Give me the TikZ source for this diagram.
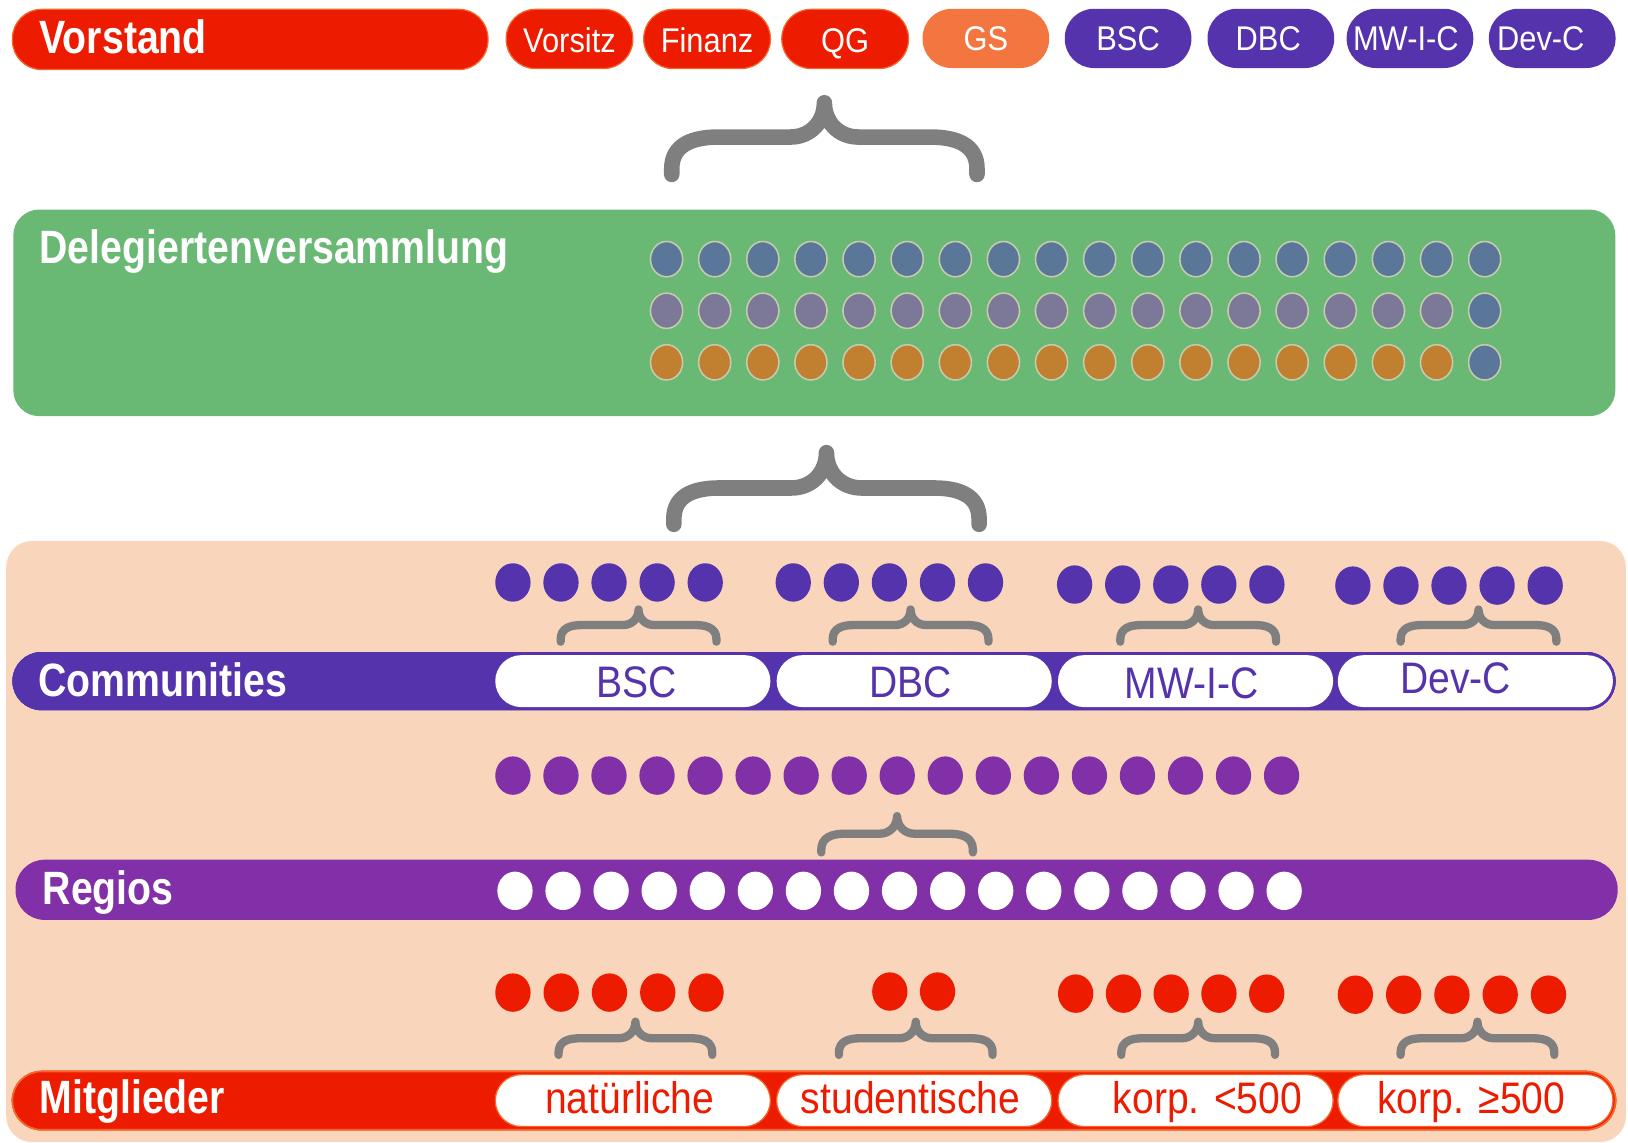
\documentclass[tikz,border=0pt]{standalone}
\usepackage{fontspec}
\setmainfont{Liberation Sans}
\newfontfamily\lblfont{Liberation Sans}[FakeStretch=0.84]
\newfontfamily\pillfont{Liberation Sans}[FakeStretch=0.9]
\newfontfamily\boxfont{Liberation Sans}[FakeStretch=0.885]
\definecolor{vred}{HTML}{ED1B00}
\definecolor{vredline}{HTML}{F4662C}
\definecolor{vorange}{HTML}{F37540}
\definecolor{vpurple}{HTML}{5433AD}
\definecolor{rpurple}{HTML}{8230A8}
\definecolor{dgreen}{HTML}{69B874}
\definecolor{peach}{HTML}{F8D5BB}
\definecolor{dblue}{HTML}{5A7799}
\definecolor{dgray}{HTML}{7C7897}
\definecolor{dorange}{HTML}{C08030}
\definecolor{bgray}{HTML}{7F7F7F}
\definecolor{dline}{HTML}{C6CBB0}
\tikzset{
  bracestyle/.style={draw=bgray, line cap=round, line join=round},
  lbl/.style={anchor=base west, inner sep=0pt, text=white, font=\lblfont\bfseries\fontsize{45}{54}\selectfont},
  tpill/.style={rounded corners=28pt, minimum width=122pt, minimum height=57pt, inner sep=0pt, text=white, text depth=0pt, font=\pillfont\fontsize{33}{40}\selectfont},
  band/.style={inner sep=0pt, rounded corners=28pt},
  cpill/.style={fill=white, minimum width=265pt, minimum height=50pt, rounded corners=25pt, inner sep=0pt},
  ctext/.style={anchor=base, inner sep=0pt, font=\boxfont\fontsize{42.5}{50}\selectfont},
  gdot/.style={draw=dline, line width=1.5pt},
}
\newcommand\gbrace[6]{%
  \pgfmathsetmacro\brL{#1-#5}\pgfmathsetmacro\brR{#1+#5}%
  \pgfmathsetmacro\brDv{#4-#3}\pgfmathsetmacro\brDt{#3-#2}%
  \pgfmathsetmacro\brAx{1.25*\brDv}\pgfmathsetmacro\brTx{1.0*\brDt}%
  \draw[bracestyle,line width=#6]
    (\brL,#4) -- (\brL,{#4-0.15*\brDv})
    .. controls (\brL,{#3+0.2*\brDv}) and ({\brL+0.45*\brAx},#3) .. ({\brL+\brAx},#3)
    -- ({#1-\brTx},#3)
    .. controls ({#1-0.4*\brTx},#3) and (#1,{#3-0.45*\brDt}) .. (#1,#2)
    .. controls (#1,{#3-0.45*\brDt}) and ({#1+0.4*\brTx},#3) .. ({#1+\brTx},#3)
    -- ({\brR-\brAx},#3)
    .. controls ({\brR-0.45*\brAx},#3) and (\brR,{#3+0.2*\brDv}) .. (\brR,{#4-0.15*\brDv})
    -- (\brR,#4);%
}
\begin{document}
\begin{tikzpicture}[x=1pt,y=-1pt]
\useasboundingbox (0,0) rectangle (1568,1100);

% ---------- Vorstand row ----------
\node[band, fill=vred, draw=vredline, line width=1.2pt, minimum width=458pt, minimum height=58pt] (vorstand) at (241,38) {};
\node[lbl] (tVor) at (38,51.4) {Vorstand};
\node[tpill, fill=vred, draw=vredline, line width=1.2pt, text height=26.4pt] (pVorsitz) at (548.5,37.5) {Vorsitz};
\node[tpill, fill=vred, draw=vredline, line width=1.2pt, text height=26.4pt] (pFinanz) at (681,37.5) {Finanz};
\node[tpill, fill=vred, draw=vredline, line width=1.2pt, text height=26.4pt] (pQG) at (814,37.5) {QG};
\node[tpill, fill=vorange, text height=22.4pt] (pGS) at (949.5,37) {GS};
\node[tpill, fill=vpurple, text height=22.4pt] (pBSC) at (1086.5,37) {BSC};
\node[tpill, fill=vpurple, text height=22.4pt] (pDBC) at (1224,37) {DBC\hspace*{5pt}};
\node[tpill, fill=vpurple, text height=22.4pt] (pMW) at (1358,37) {MW-I-C\hspace*{8pt}};
\node[tpill, fill=vpurple, text height=22.4pt] (pDev) at (1495,37) {Dev-C\hspace*{22pt}};

% ---------- top brace ----------
\gbrace{794}{99}{132}{168}{147}{15}

% ---------- Delegiertenversammlung ----------
\node[band, fill=dgreen, rounded corners=25pt, minimum width=1543pt, minimum height=199pt] (dv) at (784.3,301.3) {};
\node[lbl] (tDel) at (38,253.6) {Delegiertenversammlung};
\foreach \i in {0,...,17} \fill[dblue, gdot] ({642+46.35*\i},249.6) ellipse [x radius=15.5pt, y radius=17pt];
\foreach \i in {0,...,16} \fill[dgray, gdot] ({642+46.35*\i},299.3) ellipse [x radius=15.5pt, y radius=17pt];
\fill[dblue, gdot] ({642+46.35*17},299.3) ellipse [x radius=15.5pt, y radius=17pt];
\foreach \i in {0,...,16} \fill[dorange, gdot] ({642+46.35*\i},349) ellipse [x radius=15.5pt, y radius=17pt];
\fill[dblue, gdot] ({642+46.35*17},349) ellipse [x radius=15.5pt, y radius=17pt];

% ---------- second brace ----------
\gbrace{796}{436}{470}{505}{147}{15}

% ---------- peach area ----------
\node[band, fill=peach, rounded corners=25pt, minimum width=1560pt, minimum height=579pt] (base) at (786,810.5) {};

% Communities
\foreach \s/\y in {494/561, 764/561, 1035/563, 1303/564}
  \foreach \i in {0,...,4} \fill[vpurple] ({\s+46.3*\i},\y) ellipse [x radius=17pt, y radius=18.5pt];
\foreach \c in {615,877,1154,1424} \gbrace{\c}{587}{602}{618}{75}{8}
\node[band, fill=vpurple, minimum width=1544pt, minimum height=56pt] (comm) at (784,656) {};
\node[lbl] (tCom) at (37,671) {Communities};
\node[cpill] (cBSC) at (609.5,656) {};
\node[cpill] (cDBC) at (880.5,656) {};
\node[cpill] (cMW) at (1151.5,656) {};
\node[cpill] (cDev) at (1421,656) {};
\node[ctext, text=vpurple] (tcBSC) at (613,672) {BSC};
\node[ctext, text=vpurple] (tcDBC) at (877,672) {DBC};
\node[ctext, text=vpurple] (tcMW) at (1147.5,673) {MW-I-C};
\node[ctext, text=vpurple] (tcDev) at (1402,668) {Dev-C};

% Regios
\foreach \i in {0,...,16} \fill[rpurple] ({494+46.27*\i},747) ellipse [x radius=17pt, y radius=18.5pt];
\gbrace{864}{786}{803}{821}{73}{8}
\node[band, fill=rpurple, minimum width=1543pt, minimum height=58pt] (regios) at (786.5,857) {};
\node[lbl] (tReg) at (41,871.6) {Regios};
\foreach \i in {0,...,16} \fill[white] ({496+46.3*\i},858) ellipse [x radius=17pt, y radius=18.5pt];

% Mitglieder
\foreach \i in {0,...,4} \fill[vred] ({494+46.5*\i},956) ellipse [x radius=17pt, y radius=18.5pt];
\foreach \x in {857,903} \fill[vred] (\x,955) ellipse [x radius=17pt, y radius=18.5pt];
\foreach \i in {0,...,4} \fill[vred] ({1036+46*\i},957) ellipse [x radius=17pt, y radius=18.5pt];
\foreach \i in {0,...,4} \fill[vred] ({1305.4+46.5*\i},958) ellipse [x radius=17pt, y radius=18.5pt];
\foreach \c in {612,882,1154,1423} \gbrace{\c}{984}{1000}{1016}{74}{8}
\node[band, fill=vred, draw=vredline, line width=1.5pt, minimum width=1544pt, minimum height=56pt] (mitgl) at (784,1060) {};
\node[lbl] (tMit) at (38,1072.3) {Mitglieder};
\node[cpill, draw=vredline, line width=1.2pt] (mNat) at (609.5,1060) {};
\node[cpill, draw=vredline, line width=1.2pt] (mStu) at (880.5,1060) {};
\node[cpill, draw=vredline, line width=1.2pt] (mK1) at (1151.5,1060) {};
\node[cpill, draw=vredline, line width=1.2pt] (mK2) at (1421,1060) {};
\node[ctext, text=vred] (tmNat) at (606.5,1072) {natürliche};
\node[ctext, text=vred] (tmStu) at (877,1072) {studentische};
\node[ctext, text=vred] (tmK1) at (1163,1072) {korp. <500};
\node[ctext, text=vred] (tmK2) at (1417,1072) {korp. ≥500};
\end{tikzpicture}
\end{document}
